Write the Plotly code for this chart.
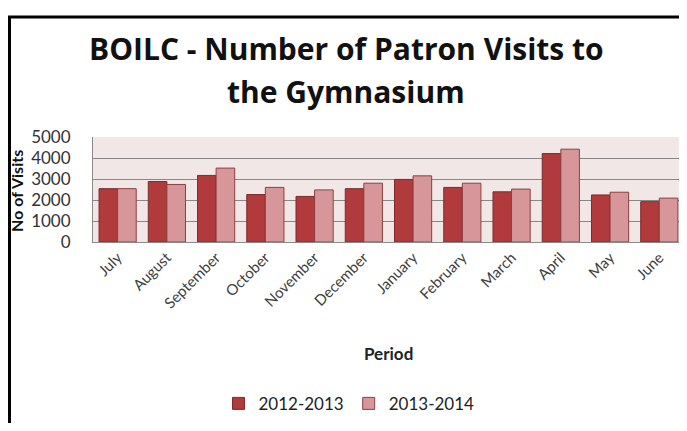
import plotly.graph_objects as go

months = ["July", "August", "September", "October", "November", "December",
          "January", "February", "March", "April", "May", "June"]
visits_2012_2013 = [2540, 2880, 3170, 2260, 2170, 2540, 2980, 2600, 2390, 4210, 2240, 1920]
visits_2013_2014 = [2540, 2740, 3520, 2600, 2480, 2800, 3150, 2800, 2520, 4420, 2370, 2090]
series_names = ["2012-2013", "2013-2014"]
y_ticks = [0, 1000, 2000, 3000, 4000, 5000]

FONT = "Lato"
OFF = 8  # page body margin
W, H = 687 - 2 * OFF, 431 - 2 * OFF
L, T = 93 - OFF, 137 - OFF
B = H - (246 - OFF)
plot_w = W - L
plot_h = H - T - B


def px_x(px):
    return (px - OFF - L) / plot_w


def px_y(py):
    return (H - B - (py - OFF)) / plot_h


fig = go.Figure()
fig.add_trace(go.Bar(x=months, y=visits_2012_2013, name=series_names[0],
                     marker=dict(color="#B03A3C", line=dict(color="#7E2B2C", width=1))))
fig.add_trace(go.Bar(x=months, y=visits_2013_2014, name=series_names[1],
                     marker=dict(color="#D7979A", line=dict(color="#8E3E40", width=1))))

fig.update_layout(
    width=W, height=H,
    margin=dict(l=L, r=0, t=T, b=B),
    paper_bgcolor="white",
    plot_bgcolor="#F2E7E7",
    barmode="group", bargap=0.245, bargroupgap=0,
    font=dict(family=FONT, color="#333333"),
    showlegend=True,
    legend=dict(orientation="h", x=px_x(349), y=px_y(414), xanchor="center", yanchor="middle",
                font=dict(family=FONT, size=17, color="#222222"), itemwidth=30,
                bgcolor="rgba(0,0,0,0)"),
)
fig.update_xaxes(range=[-0.5, 11.4], tickangle=-45, showgrid=False, ticks="",
                 tickfont=dict(family=FONT, size=15, color="#404040"),
                 showline=True, linecolor="#8a8a8a", linewidth=1)
fig.update_yaxes(range=[0, 5000], tickvals=y_ticks, showgrid=True, gridcolor="#878787", gridwidth=1,
                 ticks="", ticklabelstandoff=18, zeroline=False,
                 tickfont=dict(family=FONT, size=17, color="#333333"),
                 showline=True, linecolor="#8a8a8a", linewidth=1)

anns = [
    dict(text="<b>BOILC - Number of Patron Visits to</b>", x=px_x(346), y=px_y(45),
         font=dict(family="Open Sans", size=30, color="#111111")),
    dict(text="<b>the Gymnasium</b>", x=px_x(346), y=px_y(90),
         font=dict(family="Open Sans", size=30, color="#111111")),
    dict(text="<b>Period</b>", x=px_x(388), y=px_y(362),
         font=dict(family=FONT, size=17, color="#222222")),
    dict(text="<b>No of Visits</b>", x=px_x(17), y=px_y(193), textangle=-90,
         font=dict(family=FONT, size=16, color="#111111")),
]
for a in anns:
    fig.add_annotation(xref="paper", yref="paper", showarrow=False,
                       xanchor="center", yanchor="middle", **a)

# outer frame (left and top edges)
fig.add_shape(type="line", xref="paper", yref="paper",
              x0=px_x(9.5), x1=px_x(9.5), y0=px_y(440), y1=px_y(12.5),
              line=dict(color="black", width=3))
fig.add_shape(type="line", xref="paper", yref="paper",
              x0=px_x(8), x1=px_x(700), y0=px_y(12.5), y1=px_y(12.5),
              line=dict(color="black", width=3))

fig.write_html("out.html")
